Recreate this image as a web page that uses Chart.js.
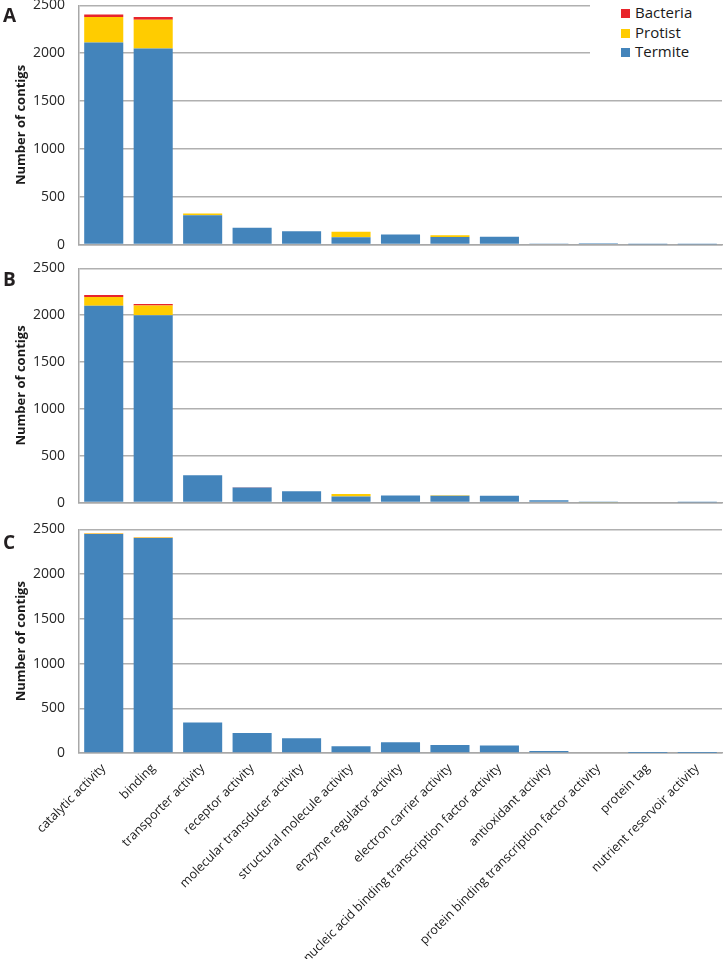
<!DOCTYPE html>
<html>
<head>
<meta charset="utf-8">
<script src="https://cdn.jsdelivr.net/npm/chart.js@4/dist/chart.umd.min.js"></script>
<style>
  html, body { margin: 0; padding: 0; background: #fff; }
  body { width: 724px; height: 959px; position: relative; overflow: hidden; font-family: "Open Sans", sans-serif; }
  .panel { position: absolute; left: 0; width: 724px; }
  .letter { position: absolute; left: 3px; font: bold 19px "Open Sans", sans-serif; color: #231f20; }
  #legend { position: absolute; left: 590px; top: 0; width: 132px; height: 62px; background: #fff; }
  #legend div { position: absolute; left: 31px; font-size: 15px; color: #1a1a1a; line-height: 16px; }
  #legend span { display: inline-block; width: 9px; height: 9px; margin-right: 5px; }
</style>
</head>
<body>
<!-- отступ сверху/снизу у оси Y ~22px (половина подписи + padding) -->
<div class="panel" style="top:-17px;height:284px"><canvas id="chartA"></canvas></div>
<div class="panel" style="top:246px;height:279px"><canvas id="chartB"></canvas></div>
<div class="panel" style="top:507px;height:452px"><canvas id="chartC"></canvas></div>
<div class="letter" style="top:2px">A</div>
<div class="letter" style="top:266px">B</div>
<div class="letter" style="top:529px">C</div>
<div id="legend"></div>
<script>
// категории GO (молекулярная функция)
const categories = [
    'catalytic activity', 'binding', 'transporter activity', 'receptor activity',
    'molecular transducer activity', 'structural molecule activity', 'enzyme regulator activity',
    'electron carrier activity', 'nucleic acid binding transcription factor activity',
    'antioxidant activity', 'protein binding transcription factor activity', 'protein tag',
    'nutrient reservoir activity'
];

const seriesNames = ['Termite', 'Protist', 'Bacteria'];
const seriesColors = ['#4384bb', '#ffcc00', '#e8242b'];
const yTicks = [0, 500, 1000, 1500, 2000, 2500];

// панель A
const termiteA  = [2113, 2050, 306, 175, 139, 77, 105, 80, 82, 12, 14, 2, 1];
const protistA  = [265, 300, 20, 0, 0, 56, 0, 18, 0, 0, 0, 0, 0];
const bacteriaA = [28, 28, 0, 0, 0, 0, 0, 0, 0, 0, 0, 0, 0];

// панель B
const termiteB  = [2100, 2000, 292, 160, 122, 64, 75, 74, 72, 26, 3, 0, 1];
const protistB  = [95, 105, 0, 0, 0, 29, 0, 5, 0, 0, 3, 0, 0];
const bacteriaB = [20, 15, 0, 4, 0, 0, 0, 0, 0, 0, 0, 0, 0];

// панель C
const termiteC  = [2448, 2405, 340, 224, 164, 75, 120, 89, 83, 22, 8, 1, 1];
const protistC  = [6, 5, 0, 0, 0, 0, 0, 0, 0, 0, 0, 0, 0];
const bacteriaC = [4, 3, 0, 0, 0, 0, 0, 0, 0, 0, 0, 0, 0];

const FONT = '"Open Sans", sans-serif';

function buildLegend() {
    const box = document.getElementById('legend');
    // порядок как в оригинале: сверху Bacteria
    [2, 1, 0].forEach((idx, row) => {
        const item = document.createElement('div');
        item.style.top = (4 + row * 19.7) + 'px';
        item.innerHTML = `<span style="background:${seriesColors[idx]}"></span>${seriesNames[idx]}`;
        box.appendChild(item);
    });
}

function createPanel(canvasId, values, showLabels) {
    const ctx = document.getElementById(canvasId);
    const datasets = values.map((data, i) => ({
        label: seriesNames[i],
        data: data,
        backgroundColor: seriesColors[i],
        borderWidth: 0,
        categoryPercentage: 0.79,
        barPercentage: 1
    }));

    return new Chart(ctx, {
        type: 'bar',
        data: { labels: categories, datasets: datasets },
        options: {
            responsive: true,
            maintainAspectRatio: false,
            animation: false,
            layout: { padding: { left: 0, right: 2, top: 0, bottom: 0 } },
            plugins: {
                legend: { display: false },
                tooltip: { enabled: false }
            },
            scales: {
                x: {
                    stacked: true,
                    grid: { display: false, drawTicks: false },
                    border: { display: true, color: '#a8a8a8', width: 1.5 },
                    ticks: {
                        display: showLabels,
                        autoSkip: false,
                        minRotation: 45,
                        maxRotation: 45,
                        padding: 8,
                        color: '#1a1a1a',
                        font: { family: FONT, size: 12.5 }
                    },
                    afterFit: (scale) => { scale.height = showLabels ? 206 : 0; }
                },
                y: {
                    stacked: true,
                    min: 0,
                    max: 2500,
                    afterBuildTicks: (scale) => { scale.ticks = yTicks.map(v => ({ value: v })); },
                    grid: { color: '#b0b0b0', lineWidth: 1.5, drawTicks: false },
                    border: { display: true, color: '#a8a8a8', width: 1.5 },
                    ticks: {
                        padding: 14,
                        color: '#262626',
                        font: { family: FONT, size: 14 },
                        callback: (value) => String(value)
                    },
                    title: {
                        display: true,
                        text: 'Number of contigs',
                        color: '#1a1a1a',
                        font: { family: FONT, size: 13, weight: 'bold' },
                        padding: { top: 13, bottom: 0 }
                    },
                    afterFit: (scale) => { scale.width = 79; }
                }
            }
        }
    });
}

buildLegend();
createPanel('chartA', [termiteA, protistA, bacteriaA], false);
createPanel('chartB', [termiteB, protistB, bacteriaB], false);
createPanel('chartC', [termiteC, protistC, bacteriaC], true);
</script>
</body>
</html>
